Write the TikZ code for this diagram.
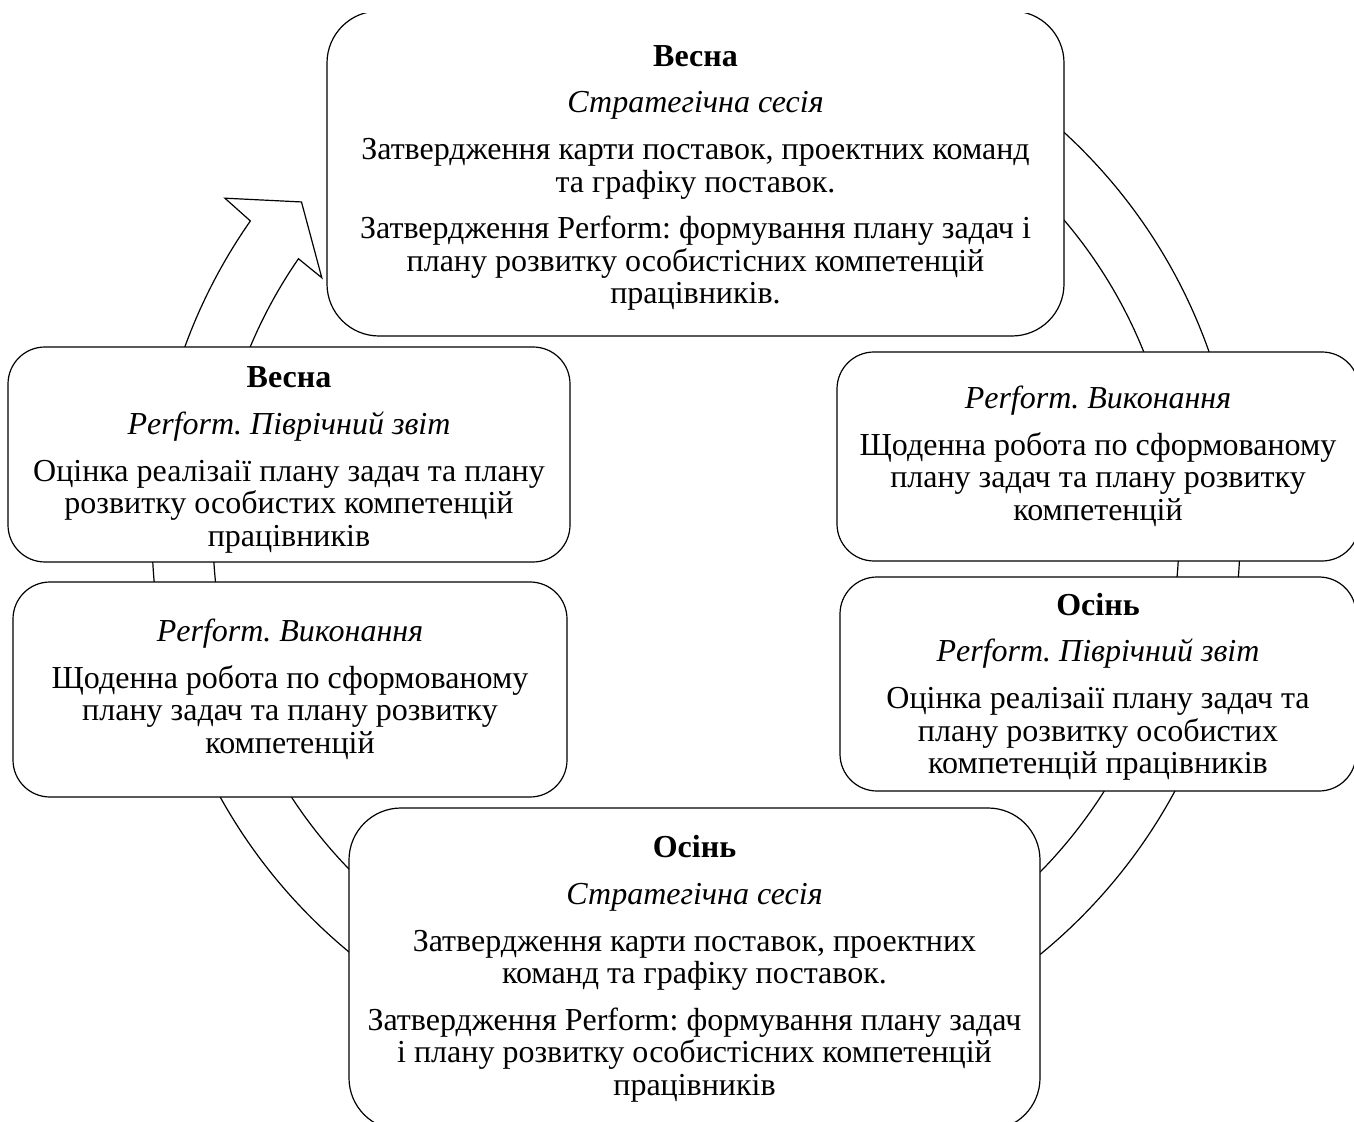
\documentclass[tikz,border=0pt]{standalone}
\usepackage{fontspec}
\setmainfont{Liberation Serif}
\frenchspacing
\tikzset{
  stagebox/.style={draw, fill=white, line width=0.6pt, rounded corners=18.5pt,
    inner sep=0pt, align=center, font=\fontsize{16}{16.3}\selectfont},
  bigbox/.style={stagebox, rounded corners=26pt},
  ring/.style={draw, fill=white, line width=0.6pt},
}
\begin{document}
\begin{tikzpicture}[x=0.5pt, y=-0.5pt]
\useasboundingbox (0,0) rectangle (1354,1122);
\clip (0,14) rectangle (1354,1122);
% cycle arrow behind the boxes
\begin{scope}[shift={(696,533)}]
  \path[ring] (-100:544) arc[start angle=-100, end angle=215, radius=544]
    -- (215.4:578) -- (220:515) -- (214.3:453) -- (214.6:483)
    arc[start angle=214.6, end angle=-100, radius=483] -- cycle;
\end{scope}
% stages
\node[bigbox, minimum width=368.5pt, minimum height=162.5pt] (springsess) at (695.5,173.5)
  {\rule{0pt}{15pt}\textbf{Весна}\\[7pt]
   \textit{Стратегічна сесія}\\[7pt]
   Затвердження карти поставок, проектних команд\\
   та графіку поставок.\\[7pt]
   Затвердження Perform: формування плану задач і\\
   плану розвитку особистісних компетенцій\\
   працівників.};
\node[stagebox, minimum width=261pt, minimum height=104.5pt] (work1) at (1098,456.5)
  {\textit{Perform. Виконання}\\[7pt]
   Щоденна робота по сформованому\\
   плану задач та плану розвитку\\
   компетенцій};
\node[stagebox, minimum width=258pt, minimum height=107pt] (autumnrep) at (1098,684)
  {\rule{0pt}{14pt}\textbf{Осінь}\\[7pt]
   \textit{Perform. Піврічний звіт}\\[7pt]
   Оцінка реалізаії плану задач та\\
   плану розвитку особистих\\
   компетенцій працівників};
\node[bigbox, minimum width=345.5pt, minimum height=161pt] (autumnsess) at (694.5,969)
  {\textbf{Осінь}\\[7pt]
   \textit{Стратегічна сесія}\\[7pt]
   Затвердження карти поставок, проектних\\
   команд та графіку поставок.\\[7pt]
   Затвердження Perform: формування плану задач\\
   і плану розвитку особистісних компетенцій\\
   працівників};
\node[stagebox, minimum width=277pt, minimum height=107.5pt] (work2) at (290,689.5)
  {\textit{Perform. Виконання}\\[7pt]
   Щоденна робота по сформованому\\
   плану задач та плану розвитку\\
   компетенцій};
\node[stagebox, minimum width=281pt, minimum height=107.5pt] (springrep) at (289,454.5)
  {\rule{0pt}{16pt}\textbf{Весна}\\[7pt]
   \textit{Perform. Піврічний звіт}\\[7pt]
   Оцінка реалізаії плану задач та плану\\
   розвитку особистих компетенцій\\
   працівників};
\end{tikzpicture}
\end{document}
